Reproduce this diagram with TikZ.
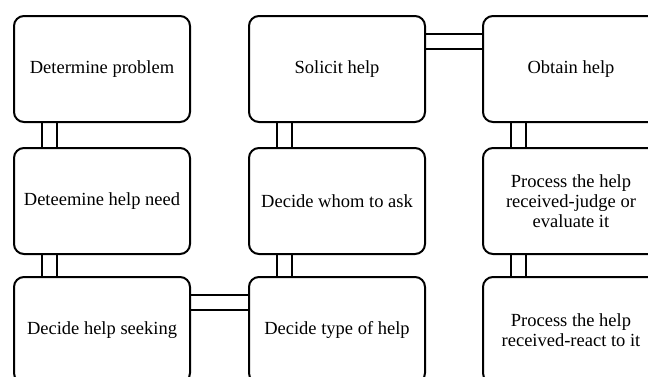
\documentclass[tikz,border=0pt]{standalone}
\usepackage{fontspec}
\setmainfont{Liberation Serif}
\usetikzlibrary{positioning,backgrounds}
\tikzset{
    stage/.style={draw, line width=2pt, rounded corners=10pt, minimum width=176pt, minimum height=106pt,
        align=center, inner sep=2pt, font=\fontsize{18.5}{20}\selectfont},
    pipe/.style={draw=black, line width=2pt, double=white, double distance=13pt}
}
\begin{document}
\begin{tikzpicture}[x=1pt,y=1pt]
    \useasboundingbox (0,0) rectangle (648,376);
    \clip (0,0) rectangle (648,376);
    % left column
    \node [stage] (prob) at (102,307) {Determine problem};
    \node [stage] (need) at (102,175) {Deteemine help need};
    \node [stage] (seek) at (102,46) {Decide help seeking};
    % middle column
    \node [stage] (solicit) at (337,307) {Solicit help};
    \node [stage] (whom) at (337,175) {Decide whom to ask};
    \node [stage] (type) at (337,46) {Decide type of help};
    % right column
    \node [stage] (obtain) at (571,307) {Obtain help};
    \node [stage] (judge) at (571,175) {Process the help\\received-judge or\\evaluate it};
    \node [stage] (react) at (571,46) {Process the help\\received-react to it};
    \begin{scope}[on background layer]
    \draw [pipe] ([xshift=36pt]prob.south west) -- ([xshift=36pt]need.north west);
    \draw [pipe] ([xshift=36pt]need.south west) -- ([xshift=36pt]seek.north west);
    \draw [pipe] ([yshift=-26pt]seek.north east) -- ([yshift=-26pt]type.north west);
    \draw [pipe] ([xshift=36pt]type.north west) -- ([xshift=36pt]whom.south west);
    \draw [pipe] ([xshift=36pt]whom.north west) -- ([xshift=36pt]solicit.south west);
    \draw [pipe] ([yshift=-26pt]solicit.north east) -- ([yshift=-26pt]obtain.north west);
    \draw [pipe] ([xshift=36pt]obtain.south west) -- ([xshift=36pt]judge.north west);
    \draw [pipe] ([xshift=36pt]judge.south west) -- ([xshift=36pt]react.north west);
    \end{scope}
\end{tikzpicture}
\end{document}
